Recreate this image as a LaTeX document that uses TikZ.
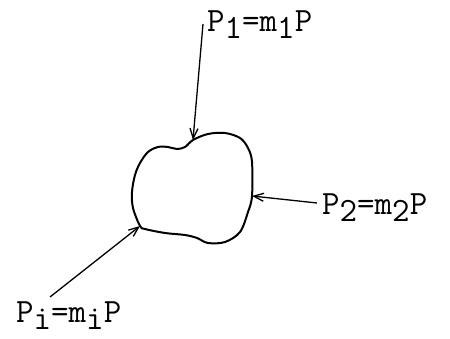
\documentclass[tikz,border=0pt]{standalone}
\usepackage{tikz}
\usetikzlibrary{arrows.meta}

\newcommand{\idx}[1]{\raisebox{-7pt}{#1}}

\begin{document}
\begin{tikzpicture}[x=1pt, y=-1pt,
    body/.style={line width=2pt, line join=round},
    force/.style={-{Straight Barb[length=10pt,width=8pt]}, line width=1.3pt},
    load/.style={inner sep=0pt, anchor=base west, font=\fontsize{34}{34}\selectfont\ttfamily}
]
\useasboundingbox (0,0) rectangle (450,339);

% Contact points on the body
\coordinate (c1) at (193,140);
\coordinate (c2) at (252,196);
\coordinate (ci) at (140,226);

% Body
\draw[body] plot[smooth cycle, tension=0.55] coordinates {
    (132,192) (135,175) (140,163) (148,152) (158,147) (168,147)
    (177,149) (185,147) (c1) (208,134) (225,133) (240,138)
    (248,148) (252,162) (c2) (248,212) (240,232) (225,242)
    (208,243) (197,238) (185,235) (165,233) (145,229) (ci)
    (133,208)};

% Loads
\node[load] (P1) at (207,32) {P\idx{1}=m\idx{1}P};
\node[load] (P2) at (322,215) {P\idx{2}=m\idx{2}P};
\node[load] (Pi) at (16,322) {P\idx{i}=m\idx{i}P};

% Tails of the forces
\coordinate (t1) at (203,24);
\coordinate (t2) at (317,203);
\coordinate (ti) at (50,297);

% Forces
\draw[force] (t1) -- (c1);
\draw[force] (t2) -- (c2);
\draw[force] (ti) -- (ci);

\end{tikzpicture}
\end{document}
